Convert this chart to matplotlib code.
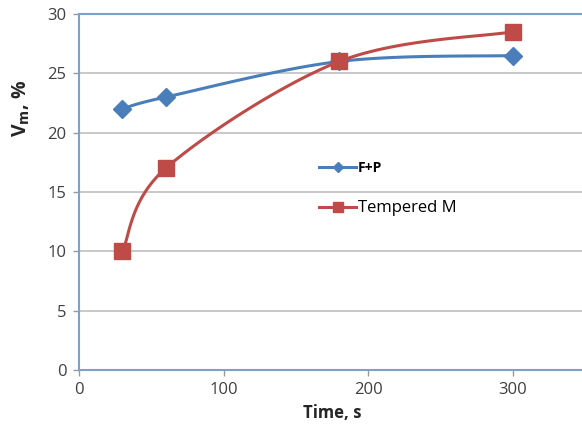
import numpy as np
import matplotlib
matplotlib.use("Agg")
from matplotlib import pyplot as plt

plt.rcParams["font.family"] = ["Open Sans", "DejaVu Sans"]

# data
time_s = [30, 60, 180, 300]
vm_fp = [22, 23, 26, 26.5]
vm_tm = [10, 17, 26, 28.5]

x_ticks = [0, 100, 200, 300]
y_ticks = [0, 5, 10, 15, 20, 25, 30]

blue = "#4A7EBB"
red = "#BE4B48"


def smooth(x, y, n=40):
    # Excel-like smoothed line: Catmull-Rom segments drawn as cubic Bezier
    x = np.asarray(x, float)
    y = np.asarray(y, float)
    px = np.concatenate(([x[0]], x, [x[-1]]))
    py = np.concatenate(([y[0]], y, [y[-1]]))
    xs, ys = [], []
    t = np.linspace(0, 1, n)
    for i in range(1, len(px) - 2):
        p0 = np.array([px[i], py[i]])
        p3 = np.array([px[i + 1], py[i + 1]])
        p1 = p0 + (np.array([px[i + 1], py[i + 1]]) - np.array([px[i - 1], py[i - 1]])) / 6
        p2 = p3 - (np.array([px[i + 2], py[i + 2]]) - np.array([px[i], py[i]])) / 6
        b = ((1 - t) ** 3)[:, None] * p0 + (3 * (1 - t) ** 2 * t)[:, None] * p1 \
            + (3 * (1 - t) * t ** 2)[:, None] * p2 + (t ** 3)[:, None] * p3
        xs.extend(b[:, 0])
        ys.extend(b[:, 1])
    return xs, ys


fig = plt.figure(figsize=(5.82, 4.32), dpi=100)
ax = fig.add_axes([79 / 582, 1 - 370 / 432, 506 / 582, 356 / 432])

for x, y, c, m, ms, lab in [
    (time_s, vm_fp, blue, "D", 9, "F+P"),
    (time_s, vm_tm, red, "s", 11, "Tempered M"),
]:
    sx, sy = smooth(x, y)
    ax.plot(sx, sy, color=c, lw=2.2, zorder=3)
    ax.plot(x, y, ls="none", marker=m, ms=ms, color=c, zorder=4)
    ax.plot([], [], color=c, lw=2.2, marker=m, ms=ms * 0.6, label=lab)

ax.set_xlim(0, 350)
ax.set_ylim(0, 30)
ax.set_xticks(x_ticks)
ax.set_yticks(y_ticks)
ax.grid(axis="y", color="#BFBFBF", lw=1.2)
ax.set_axisbelow(True)

for s in ["left", "bottom", "top"]:
    ax.spines[s].set_color("#7F9FCF")
    ax.spines[s].set_linewidth(1.5)
ax.spines["right"].set_visible(False)
ax.tick_params(colors="#404040", labelsize=12, length=4, width=1, direction="out", pad=5)
ax.tick_params(axis="both", color="#999999")

ax.set_xlabel("Time, s", fontsize=12, fontweight="bold", color="#262626", labelpad=4)
ax.set_ylabel("V$_\\mathbf{m}$, %", fontsize=14, fontweight="bold", color="#262626")
ax.yaxis.set_label_coords(-0.092, 0.735)

leg = ax.legend(loc="upper left", bbox_to_anchor=(0.445, 0.63), frameon=False,
                fontsize=12, labelspacing=1.5, handlelength=2.2, handletextpad=0.1)
leg.get_texts()[0].set_fontweight("bold")
leg.get_texts()[0].set_fontsize(10)

fig.savefig("out.png", dpi=100)
